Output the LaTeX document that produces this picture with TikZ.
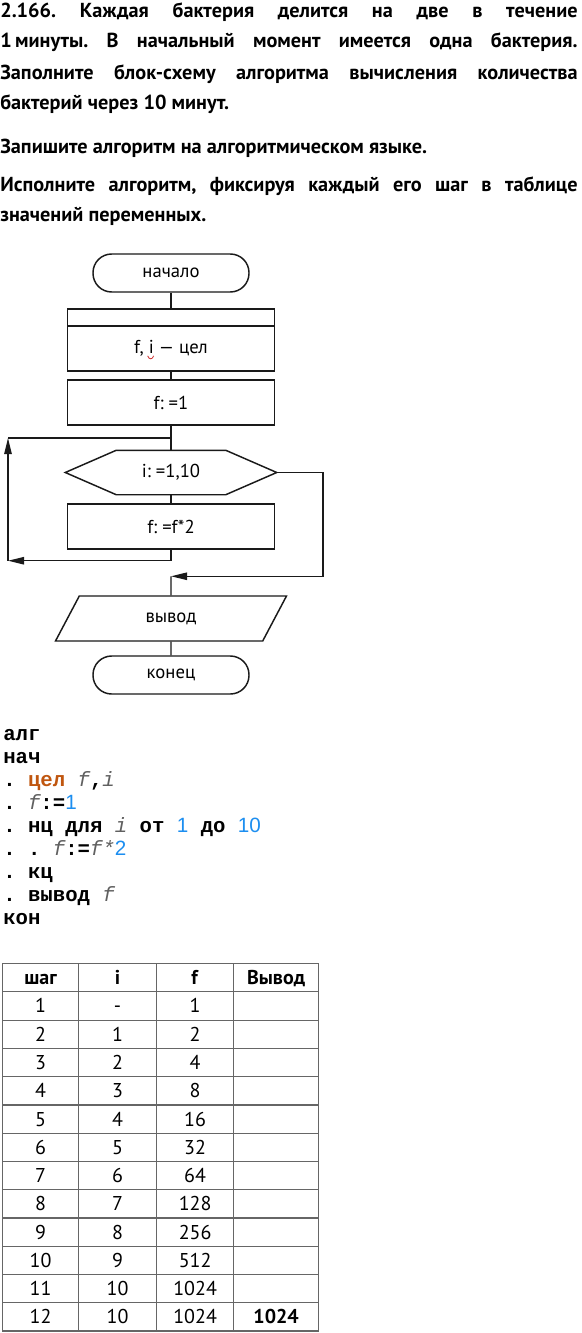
\documentclass[tikz,border=0pt]{standalone}
\usepackage{fontspec}
\setmainfont{PT Sans}
\newfontfamily\codefont{Liberation Mono}
\newfontfamily\numfont{Liberation Sans}
\usetikzlibrary{arrows.meta,positioning,shapes.geometric,matrix,calc}
\definecolor{FlowLine}{HTML}{1A1A1A}
\definecolor{TableLine}{HTML}{666666}
\definecolor{KumirType}{HTML}{C0560F}
\definecolor{KumirNum}{HTML}{1C8EF0}
\definecolor{KumirVar}{HTML}{606060}
\definecolor{SpellRed}{HTML}{D03030}
\newcommand{\kw}[1]{{\codefont\bfseries #1}}
\newcommand{\ktype}[1]{{\codefont\bfseries\color{KumirType}#1}}
\newcommand{\kvar}[1]{{\codefont\mdseries\itshape\color{KumirVar}#1}}
\newcommand{\knum}[1]{{\numfont\mdseries\color{KumirNum}#1}}
\newcommand{\fullline}[1]{\makebox[433pt][s]{#1}}
\frenchspacing

\begin{document}
\begin{tikzpicture}[
    x=0.75pt, y=-0.75pt,
    head/.style={anchor=base west, inner sep=0pt, font=\fontsize{15.2}{18}\selectfont\bfseries},
    block/.style={draw=FlowLine, line width=1.1pt, minimum width=155.25pt, minimum height=33.75pt,
      inner sep=0pt, align=center, font=\fontsize{14}{17}\selectfont},
    terminal/.style={block, rounded corners=14pt, minimum width=117pt, minimum height=28.5pt},
    io/.style={block, trapezium, trapezium left angle=61, trapezium right angle=119,
      trapezium stretches=true, minimum width=174pt},
    loophead/.style={block, draw=none, minimum width=157.5pt, minimum height=32.25pt},
    line/.style={draw=FlowLine, line width=1.1pt},
    arrow/.style={line, -{Triangle[length=12pt,width=5.5pt]}},
    code/.style={anchor=base west, inner sep=0pt, font=\fontsize{15.5}{17}\selectfont\codefont\bfseries},
    cell/.style={draw=TableLine, line width=0.9pt, minimum height=21.2pt, inner sep=0pt,
      text height=10.4pt, text depth=0pt, font=\fontsize{15}{18}\selectfont}
  ]
  \fill[white] (0,0) rectangle (581,1333);
  \useasboundingbox (0,0) rectangle (581,1333);

  % task text
  \node[head] (task1) at (0,18) {\fullline{2.166. Каждая бактерия делится на две в течение}};
  \node[head] (task2) at (0,48) {\fullline{1\,минуты. В начальный момент имеется одна бактерия.}};
  \node[head] (task3) at (0,80) {\fullline{Заполните блок-схему алгоритма вычисления количества}};
  \node[head] (task4) at (0,110) {бактерий через 10 минут.};
  \node[head] (task5) at (0,154) {Запишите алгоритм на алгоритмическом языке.};
  \node[head] (task6) at (0,192) {\fullline{Исполните алгоритм, фиксируя каждый его шаг в таблице}};
  \node[head] (task7) at (0,222) {значений переменных.};

  % flowchart
  \node[terminal] (start) at (171,273) {начало};
  \node[block, minimum height=12.75pt, below=11.65pt of start] (decltop) {};
  \node[block, below=-1.1pt of decltop] (decl) {f, i — цел};
  \node[block, below=5.65pt of decl] (init) {f: =1};
  \node[loophead, below=18.4pt of init] (cycle) {i: =1,10};
  \node[block, below=6.4pt of cycle] (body) {f: =f*2};
  \node[io, below=34.15pt of body] (out) {вывод};
  \node[terminal, below=10.15pt of out] (stop) {конец};

  \draw[line] (cycle.west) -- ([xshift=38.25pt]cycle.north west) -- ([xshift=-38.25pt]cycle.north east)
    -- (cycle.east) -- ([xshift=-38.25pt]cycle.south east) -- ([xshift=38.25pt]cycle.south west) -- cycle;
  \draw[SpellRed, line width=0.6pt] ([xshift=-17.5pt,yshift=-5.5pt]decl.center)
    .. controls ([xshift=-16.5pt,yshift=-8.5pt]decl.center) and ([xshift=-14pt,yshift=-8.5pt]decl.center)
    .. ([xshift=-13pt,yshift=-5.5pt]decl.center);

  \coordinate (join) at ($(init.south)!0.5!(cycle.north)$);
  \coordinate (back) at ([yshift=-8.25pt]body.south);
  \coordinate (merge) at ([yshift=14.25pt]out.north);
  \coordinate (leftx) at (8,0);
  \coordinate (rightx) at (323,0);

  \draw[line] (start) -- (decltop);
  \draw[line] (decl) -- (init);
  \draw[line] (init) -- (cycle.north);
  \draw[line] (cycle.south) -- (body);
  \draw[arrow] (body.south) -- (back) -- (back -| leftx);
  \draw[arrow] (back -| leftx) -- (join -| leftx);
  \draw[line] (join -| leftx) -- (join);
  \draw[arrow] (cycle.east) -- (cycle.east -| rightx) -- (merge -| rightx) -- (merge);
  \draw[line] (merge) -- (out);
  \draw[line] (out) -- (stop);

  % program text
  \foreach \codeline [count=\k from 0] in {
      {алг},
      {нач},
      {. \ktype{цел} \kvar{f},\kvar{i}},
      {. \kvar{f}:=\knum{1}},
      {. нц для \kvar{i} от \knum{1} до \knum{10}},
      {. . \kvar{f}:=\kvar{f*}\knum{2}},
      {. кц},
      {. вывод \kvar{f}},
      {кон}}
    \node[code] (alg\k) at (3,740+23.1*\k) {\codeline};

  % table of steps
  \matrix (steps) [matrix of nodes, nodes in empty cells, anchor=north west,
      inner sep=0pt, outer sep=0pt,
      column sep=-0.9pt, row sep=-0.9pt, nodes={cell},
      column 1/.style={nodes={minimum width=57pt}},
      column 2/.style={nodes={minimum width=58.5pt}},
      column 3/.style={nodes={minimum width=57.75pt}},
      column 4/.style={nodes={minimum width=63.75pt}}] at (2,963) {
    \textbf{шаг} & \textbf{i} & \textbf{f} & \textbf{Вывод} \\
    1 & - & 1 & \\
    2 & 1 & 2 & \\
    3 & 2 & 4 & \\
    4 & 3 & 8 & \\
    5 & 4 & 16 & \\
    6 & 5 & 32 & \\
    7 & 6 & 64 & \\
    8 & 7 & 128 & \\
    9 & 8 & 256 & \\
    10 & 9 & 512 & \\
    11 & 10 & 1024 & \\
    12 & 10 & 1024 & \textbf{1024} \\
  };
\end{tikzpicture}
\end{document}
